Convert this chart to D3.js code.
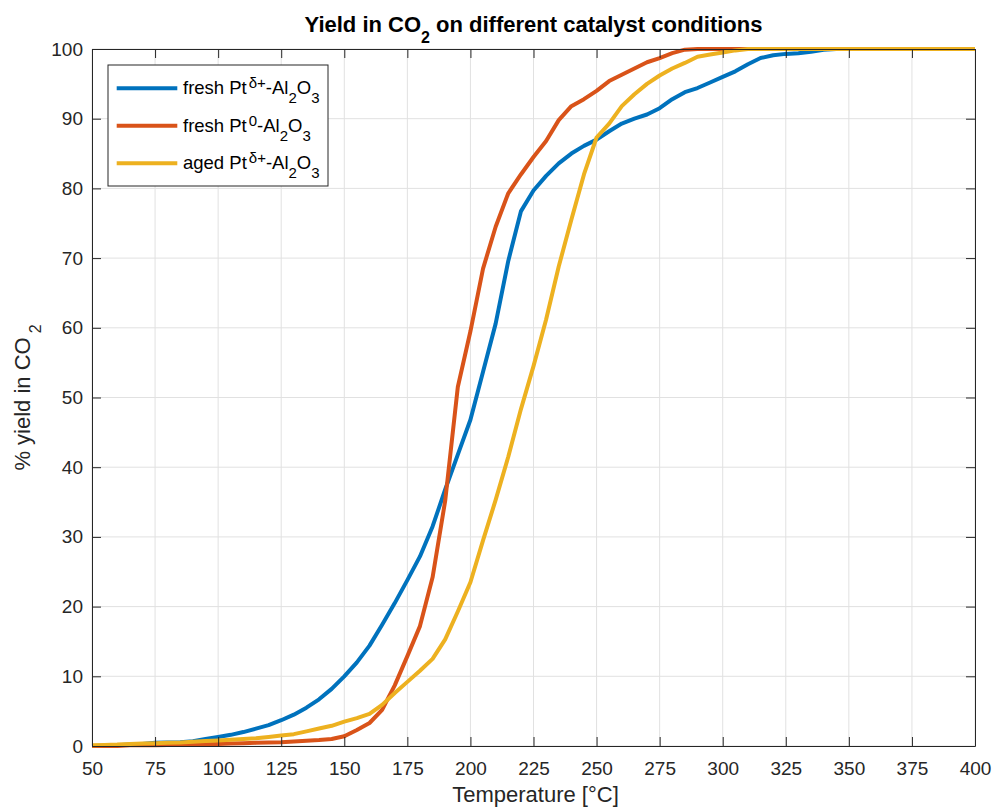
<!DOCTYPE html>
<html>
<head>
<meta charset="utf-8">
<script src="https://cdn.jsdelivr.net/npm/d3@7"></script>
<style>
  html, body { margin: 0; padding: 0; background: #ffffff; }
  svg { display: block; font-family: "Liberation Sans", Arial, Helvetica, sans-serif; }
</style>
</head>
<body>
<svg id="chart" width="994" height="809"></svg>
<script>
// Temperature samples (°C)
const temperatures = [
  50, 55, 60, 65, 70, 75, 80, 85, 90, 95,
  100, 105, 110, 115, 120, 125, 130, 135, 140, 145,
  150, 155, 160, 165, 170, 175, 180, 185, 190, 195,
  200, 205, 210, 215, 220, 225, 230, 235, 240, 245,
  250, 255, 260, 265, 270, 275, 280, 285, 290, 295,
  300, 305, 310, 315, 320, 325, 330, 335, 340, 345,
  350, 375, 400
];

// % yield in CO2, fresh Pt(δ+)-Al2O3
const freshPtDelta = [
  0, 0.05, 0.1, 0.2, 0.3, 0.45, 0.5, 0.55, 0.7, 1.0,
  1.3, 1.6, 2.0, 2.5, 3.0, 3.7, 4.5, 5.5, 6.7, 8.2,
  10.0, 12.0, 14.4, 17.4, 20.5, 23.8, 27.2, 31.5, 36.8, 41.8,
  46.8, 53.7, 60.6, 69.6, 76.7, 79.7, 81.8, 83.6, 85.0, 86.1,
  87.0, 88.2, 89.3, 90.0, 90.6, 91.5, 92.8, 93.8, 94.4, 95.2,
  96.0, 96.8, 97.8, 98.7, 99.1, 99.3, 99.4, 99.6, 99.9, 100,
  100, 100, 100
];

// % yield in CO2, fresh Pt(0)-Al2O3
const freshPtZero = [
  0, 0, 0, 0.1, 0.1, 0.1, 0.15, 0.2, 0.2, 0.25,
  0.3, 0.35, 0.4, 0.45, 0.5, 0.55, 0.65, 0.75, 0.85, 1.0,
  1.4, 2.3, 3.3, 5.2, 8.7, 12.9, 17.2, 24.2, 35.2, 51.5,
  59.5, 68.5, 74.5, 79.3, 82.0, 84.5, 86.8, 89.8, 91.8, 92.8,
  94.0, 95.4, 96.3, 97.2, 98.1, 98.7, 99.4, 99.9, 100, 100,
  100, 100, 100, 100, 100, 100, 100, 100, 100, 100,
  100, 100, 100
];

// % yield in CO2, aged Pt(δ+)-Al2O3
const agedPtDelta = [
  0.1, 0.15, 0.2, 0.3, 0.35, 0.4, 0.45, 0.5, 0.6, 0.7,
  0.8, 0.9, 1.0, 1.1, 1.3, 1.5, 1.7, 2.1, 2.5, 2.9,
  3.5, 4.0, 4.6, 5.9, 7.6, 9.2, 10.8, 12.5, 15.3, 19.3,
  23.5, 29.5, 35.3, 41.5, 48.3, 54.5, 61.2, 68.8, 75.5, 82.0,
  87.3, 89.3, 91.8, 93.5, 95.0, 96.2, 97.2, 98.0, 98.9, 99.2,
  99.5, 99.8, 100, 100, 100, 100, 100, 100, 100, 100,
  100, 100, 100
];

const xTicks = [50, 75, 100, 125, 150, 175, 200, 225, 250, 275, 300, 325, 350, 375, 400];
const yTicks = [0, 10, 20, 30, 40, 50, 60, 70, 80, 90, 100];

const series = [
  { key: "freshDelta", values: freshPtDelta, color: "#0072BD", base: "fresh Pt", sup: "δ+" },
  { key: "freshZero",  values: freshPtZero,  color: "#D95319", base: "fresh Pt", sup: "0" },
  { key: "agedDelta",  values: agedPtDelta,  color: "#EDB120", base: "aged Pt",  sup: "δ+" }
];

const margin = { top: 49, right: 19, bottom: 63, left: 92 };
const width = 994, height = 809;
const innerW = width - margin.left - margin.right;
const innerH = height - margin.top - margin.bottom;

const svg = d3.select("#chart");
const g = svg.append("g").attr("transform", `translate(${margin.left},${margin.top})`);

const x = d3.scaleLinear().domain([50, 400]).range([0, innerW]);
const y = d3.scaleLinear().domain([0, 100]).range([innerH, 0]);

const axisColor = "#262626";
const gridColor = "#e1e1e1";

// grid lines
g.append("g").selectAll("line").data(xTicks).join("line")
  .attr("x1", d => x(d)).attr("x2", d => x(d))
  .attr("y1", 0).attr("y2", innerH)
  .attr("stroke", gridColor).attr("stroke-width", 1);
g.append("g").selectAll("line").data(yTicks).join("line")
  .attr("x1", 0).attr("x2", innerW)
  .attr("y1", d => y(d)).attr("y2", d => y(d))
  .attr("stroke", gridColor).attr("stroke-width", 1);

// data lines
const line = d3.line()
  .x((d, i) => x(temperatures[i]))
  .y(d => y(d));

svg.append("defs").append("clipPath").attr("id", "plotClip")
  .append("rect").attr("x", -3).attr("y", -3).attr("width", innerW + 6).attr("height", innerH + 6);

g.append("g").attr("clip-path", "url(#plotClip)")
  .selectAll("path").data(series).join("path")
  .attr("fill", "none")
  .attr("stroke", d => d.color)
  .attr("stroke-width", 4)
  .attr("stroke-linejoin", "round")
  .attr("d", d => line(d.values));

// axes (ticks pointing inward, box on all sides)
const tickLen = 9;
const xAxis = d3.axisBottom(x).tickValues(xTicks).tickSizeInner(-tickLen).tickSizeOuter(0).tickPadding(16);
const yAxis = d3.axisLeft(y).tickValues(yTicks).tickSizeInner(-tickLen).tickSizeOuter(0).tickPadding(9);
const xTop = d3.axisTop(x).tickValues(xTicks).tickSizeInner(-tickLen).tickSizeOuter(0).tickFormat("");
const yRight = d3.axisRight(y).tickValues(yTicks).tickSizeInner(-tickLen).tickSizeOuter(0).tickFormat("");

function styleAxis(sel) {
  sel.selectAll("path.domain").attr("stroke", axisColor).attr("stroke-width", 1);
  sel.selectAll(".tick line").attr("stroke", axisColor).attr("stroke-width", 1);
  sel.selectAll(".tick text").attr("fill", axisColor).style("font-size", "19px")
    .style("font-family", "'Liberation Sans', Arial, sans-serif");
}

g.append("g").attr("transform", `translate(0,${innerH})`).call(xAxis).call(styleAxis);
g.append("g").call(yAxis).call(styleAxis);
g.append("g").call(xTop).call(styleAxis);
g.append("g").attr("transform", `translate(${innerW},0)`).call(yRight).call(styleAxis);

// title
const title = svg.append("text")
  .attr("x", margin.left + innerW / 2).attr("y", 32)
  .attr("text-anchor", "middle")
  .attr("fill", "#000")
  .style("font-size", "22px").style("font-weight", "bold");
title.append("tspan").text("Yield in CO");
title.append("tspan").attr("dy", 11).style("font-size", "16px").text("2");
title.append("tspan").attr("dy", -11).text(" on different catalyst conditions");

// x label
svg.append("text")
  .attr("x", margin.left + innerW / 2 + 2).attr("y", 802)
  .attr("text-anchor", "middle").attr("fill", axisColor)
  .style("font-size", "22px")
  .text("Temperature [°C]");

// y label
const yl = svg.append("text")
  .attr("transform", `translate(30,${margin.top + innerH / 2}) rotate(-90)`)
  .attr("text-anchor", "middle").attr("fill", axisColor)
  .style("font-size", "22px");
yl.append("tspan").text("% yield in CO");
yl.append("tspan").attr("dx", 4).attr("dy", 11).style("font-size", "16px").text("2");

// legend
const legend = svg.append("g").attr("transform", "translate(108,65)");
legend.append("rect")
  .attr("x", 0).attr("y", 0).attr("width", 220).attr("height", 121)
  .attr("fill", "#fff").attr("stroke", axisColor).attr("stroke-width", 1);

const rows = legend.selectAll("g").data(series).join("g")
  .attr("transform", (d, i) => `translate(0,${23.3 + i * 37.5})`);
rows.append("line")
  .attr("x1", 8.7).attr("x2", 69.3).attr("y1", 0).attr("y2", 0)
  .attr("stroke", d => d.color).attr("stroke-width", 4);
rows.each(function (d) {
  const t = d3.select(this).append("text")
    .attr("x", 75).attr("y", 6)
    .attr("fill", "#000")
    .style("font-size", "18.5px");
  t.append("tspan").text(d.base);
  t.append("tspan").attr("dx", 2).attr("dy", -6).style("font-size", "15px").text(d.sup);
  t.append("tspan").attr("dy", 6).text("-Al");
  t.append("tspan").attr("dy", 9).style("font-size", "15px").text("2");
  t.append("tspan").attr("dy", -9).text("O");
  t.append("tspan").attr("dy", 9).style("font-size", "15px").text("3");
});
</script>
</body>
</html>
